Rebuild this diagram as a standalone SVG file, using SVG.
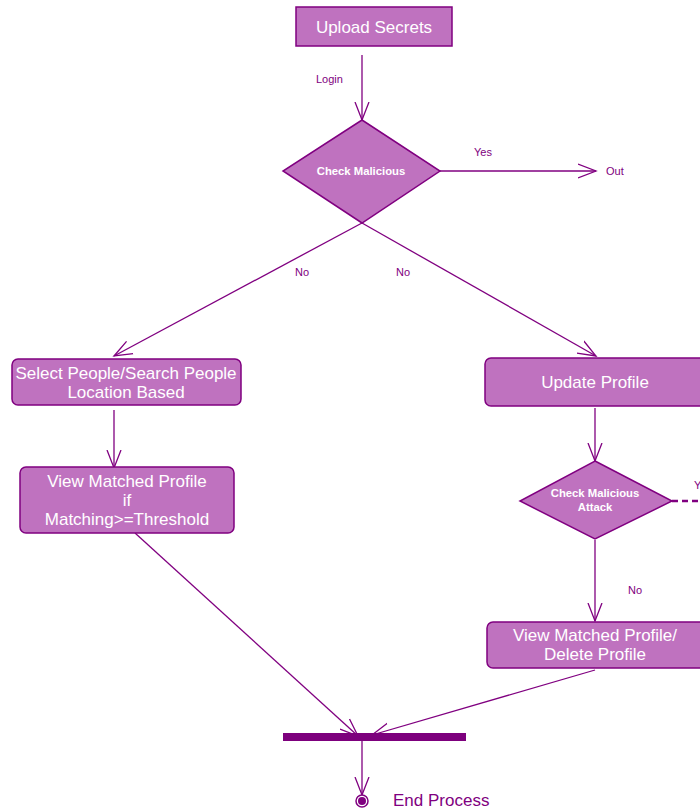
<svg xmlns="http://www.w3.org/2000/svg" width="700" height="811" viewBox="0 0 700 811">
<style>
.box{fill:#bf72bf;stroke:#800080;stroke-width:1.5}
.t{fill:#ffffff;font-family:"Liberation Sans",Arial,sans-serif;font-size:17px;text-anchor:middle}
.tb{fill:#ffffff;font-family:"Liberation Sans",Arial,sans-serif;font-size:11.3px;font-weight:bold;text-anchor:middle}
.lbl{fill:#800080;font-family:"Liberation Sans",Arial,sans-serif;font-size:11px}
.ln{stroke:#800080;stroke-width:1.3;fill:none}
</style>
<defs>
<marker id="open" viewBox="0 0 20 20" refX="18" refY="10" markerWidth="20" markerHeight="20" markerUnits="userSpaceOnUse" orient="auto">
<path d="M0,3 L18,10 L0,17" fill="none" stroke="#800080" stroke-width="1.3"/>
</marker>
</defs>
<rect width="700" height="811" fill="#ffffff"/>
<g id="connectors">
<line class="ln" x1="362" y1="55" x2="362" y2="120" marker-end="url(#open)"/>
<text class="lbl" x="316" y="83">Login</text>
<line class="ln" x1="440" y1="171" x2="596" y2="171" marker-end="url(#open)"/>
<text class="lbl" x="474" y="156">Yes</text>
<line class="ln" x1="362" y1="223" x2="114" y2="356" marker-end="url(#open)"/>
<line class="ln" x1="362" y1="223" x2="596" y2="356" marker-end="url(#open)"/>
<text class="lbl" x="295" y="276">No</text>
<text class="lbl" x="396" y="276">No</text>
<line class="ln" x1="114" y1="410" x2="114" y2="468" marker-end="url(#open)"/>
<line class="ln" x1="135" y1="533" x2="358" y2="736" marker-end="url(#open)"/>
<line class="ln" x1="595" y1="408" x2="595" y2="461" marker-end="url(#open)"/>
<line x1="672" y1="501" x2="700" y2="501" stroke="#800080" stroke-width="2.5" stroke-dasharray="6,4"/>
<text class="lbl" x="694" y="489">Y</text>
<line class="ln" x1="595" y1="540" x2="595" y2="621" marker-end="url(#open)"/>
<text class="lbl" x="628" y="594">No</text>
<line class="ln" x1="595" y1="670" x2="372" y2="735" marker-end="url(#open)"/>
<line class="ln" x1="362" y1="741" x2="362" y2="795" marker-end="url(#open)"/>
</g>
<g id="upload">
<rect class="box" x="296" y="7" width="156" height="39"/>
<text class="t" x="374" y="33">Upload Secrets</text>
</g>
<g id="check1">
<polygon class="box" points="362,120 440,171 362,223 283,171"/>
<text class="tb" x="361" y="175">Check Malicious</text>
</g>
<g id="out">
<text class="lbl" x="606" y="175">Out</text>
</g>
<g id="select">
<rect class="box" x="12" y="359" width="229" height="46" rx="6"/>
<text class="t" x="126" y="379">Select People/Search People</text>
<text class="t" x="126" y="398">Location Based</text>
</g>
<g id="view1">
<rect class="box" x="20" y="467" width="214" height="66" rx="6"/>
<text class="t" x="127" y="487">View Matched Profile</text>
<text class="t" x="127" y="506">if</text>
<text class="t" x="127" y="525">Matching&gt;=Threshold</text>
</g>
<g id="update">
<rect class="box" x="485" y="358" width="222" height="48" rx="6"/>
<text class="t" x="595" y="388">Update Profile</text>
</g>
<g id="check2">
<polygon class="box" points="595,461 672,501 595,539 520,501"/>
<text class="tb" x="595" y="497">Check Malicious</text>
<text class="tb" x="595" y="511">Attack</text>
</g>
<g id="view2">
<rect class="box" x="487" y="622" width="222" height="46" rx="6"/>
<text class="t" x="595" y="641">View Matched Profile/</text>
<text class="t" x="595" y="660">Delete Profile</text>
</g>
<g id="bar">
<rect x="283" y="733" width="183" height="8" fill="#7d007d"/>
</g>
<g id="end">
<circle cx="362" cy="801" r="6" fill="#ffffff" stroke="#800080" stroke-width="1.5"/>
<circle cx="362" cy="801" r="4" fill="#800080"/>
<text x="393" y="806" fill="#800080" font-family="Liberation Sans, Arial, sans-serif" font-size="17px">End Process</text>
</g>
</svg>
